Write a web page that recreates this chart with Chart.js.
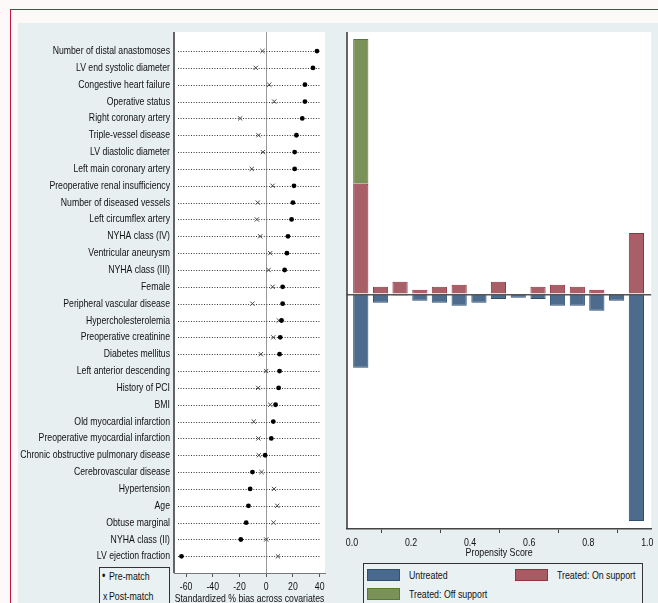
<!DOCTYPE html>
<html>
<head>
<meta charset="utf-8">
<script src="https://cdn.jsdelivr.net/npm/chart.js@4.4.1/dist/chart.umd.min.js"></script>
<style>
  html, body { margin:0; padding:0; width:658px; height:603px; overflow:hidden; background:#fdf9f8; }
  #frame { position:absolute; left:10px; top:9px; width:660px; height:600px; border-left:1.5px solid #c4163e; border-top:1.5px solid #c4163e; }
  #panel { position:absolute; left:18px; top:23px; right:0; bottom:0; background:#e8eff1; }
  canvas { position:absolute; top:0; }
  #c1 { left:0; }
  #c2 { left:340px; }
  .lg { position:absolute; border:1px solid #333; background:#eaf1f3; font-family:"Liberation Sans",Arial,sans-serif; font-size:11px; color:#111; }
  .lg span { position:absolute; white-space:nowrap; line-height:12px; transform:scaleX(0.8); transform-origin:0 0; }
  .sw { position:absolute; width:31px; height:10px; }
</style>
</head>
<body>
<div id="frame"></div>
<div id="panel"></div>
<canvas id="c1" width="340" height="603"></canvas>
<canvas id="c2" width="318" height="603"></canvas>

<div class="lg" style="left:99px; top:567px; width:69px; height:40px;">
  <span style="left:2px; top:2px; font-size:12px;">&#8226;</span>
  <span style="left:9px; top:2px;">Pre-match</span>
  <span style="left:3px; top:22px;">x</span>
  <span style="left:9px; top:22px;">Post-match</span>
</div>
<div class="lg" style="left:363px; top:563px; width:278px; height:44px;">
  <div class="sw" style="left:3px; top:5px; background:#4a6a8d; border:1px solid #2f4f73;"></div>
  <span style="left:45px; top:5px;">Untreated</span>
  <div class="sw" style="left:151px; top:5px; background:#a75c64; border:1px solid #96323f;"></div>
  <span style="left:193px; top:5px;">Treated: On support</span>
  <div class="sw" style="left:3px; top:24px; background:#7a9258; border:1px solid #577a33;"></div>
  <span style="left:45px; top:24px;">Treated: Off support</span>
</div>

<script>
// ---------------- DATA ----------------
const covariates = [
  "Number of distal anastomoses","LV end systolic diameter","Congestive heart failure","Operative status",
  "Right coronary artery","Triple-vessel disease","LV diastolic diameter","Left main coronary artery",
  "Preoperative renal insufficiency","Number of diseased vessels","Left circumflex artery","NYHA class (IV)",
  "Ventricular aneurysm","NYHA class (III)","Female","Peripheral vascular disease","Hypercholesterolemia",
  "Preoperative creatinine","Diabetes mellitus","Left anterior descending","History of PCI","BMI",
  "Old myocardial infarction","Preoperative myocardial infarction","Chronic obstructive pulmonary disease",
  "Cerebrovascular disease","Hypertension","Age","Obtuse marginal","NYHA class (II)","LV ejection fraction"
];
const preMatch = [38, 35, 29, 29, 27, 22.6, 21.3, 21.3, 20.8, 20, 19, 16.3, 15.5, 13.8, 12.3, 12.3, 11.5,
  10.5, 10, 10, 9.3, 7, 5.3, 3.8, -0.8, -10.3, -12, -13.3, -15, -19, -63.4];
const postMatch = [-2.8, -7.8, 2.3, 6, -19.5, -5.8, -2.5, -10.8, 4.8, -6.3, -7, -4.5, 3, 1.8, 4.8, -10.3, 9.5,
  5.3, -4, 0, -6, 3, -9.3, -5.8, -5.5, -3.5, 5.8, 8.3, 5.5, 0, 8.8];
const biasTicks = [-60, -40, -20, 0, 20, 40];

const binCenters = [0.030, 0.097, 0.163, 0.230, 0.296, 0.363, 0.430, 0.496, 0.563, 0.630, 0.696, 0.763, 0.829, 0.896, 0.963];
const untreated = [-2.94, -0.34, -0.05, -0.26, -0.34, -0.46, -0.34, -0.19, -0.14, -0.19, -0.46, -0.46, -0.66, -0.26, -9.07];
const treatedOn = [4.42, 0.30, 0.50, 0.18, 0.30, 0.38, 0, 0.50, 0, 0.30, 0.38, 0.30, 0.18, 0, 2.45];
const treatedOff = [5.79, 0, 0, 0, 0, 0, 0, 0, 0, 0, 0, 0, 0, 0, 0];
const scoreTicks = [0, 0.2, 0.4, 0.6, 0.8, 1.0];

// ---------------- COMMON ----------------
Chart.defaults.font.family = '"Liberation Sans",Arial,sans-serif';
Chart.defaults.font.size = 11;
Chart.defaults.color = '#111';
Chart.defaults.animation = false;

// narrow (condensed) text rendering, like the original Stata graph font
function condense(canvas, k) {
  const ctx = canvas.getContext('2d');
  const orig = ctx.fillText;
  ctx.fillText = function (t, x, y, mw) {
    this.save();
    this.translate(x, y);
    this.scale(k, 1);
    if (mw === undefined) orig.call(this, t, 0, 0); else orig.call(this, t, 0, 0, mw / k);
    this.restore();
  };
}

const whiteArea = {
  id: 'whiteArea',
  beforeDraw(chart) {
    const {ctx, chartArea: a} = chart;
    ctx.save(); ctx.fillStyle = '#ffffff';
    ctx.fillRect(a.left, a.top, a.right - a.left, a.bottom - a.top);
    ctx.restore();
  }
};

const rowLines = {
  id: 'rowLines',
  beforeDatasetsDraw(chart) {
    const {ctx, chartArea: a, scales: {y}} = chart;
    ctx.save();
    ctx.strokeStyle = '#333'; ctx.lineWidth = 1; ctx.setLineDash([1, 1.6]);
    covariates.forEach((_, i) => {
      const py = Math.round(y.getPixelForValue(i)) + 0.5;
      ctx.beginPath(); ctx.moveTo(a.left + 4, py); ctx.lineTo(a.right - 4, py); ctx.stroke();
    });
    ctx.restore();
  }
};

const leftAxisLine = {
  id: 'leftAxisLine',
  afterDraw(chart) {
    const {ctx, chartArea: a} = chart;
    ctx.save(); ctx.strokeStyle = '#333'; ctx.lineWidth = 1.5;
    ctx.beginPath(); ctx.moveTo(a.left, a.top); ctx.lineTo(a.left, a.bottom); ctx.stroke();
    ctx.restore();
  }
};

// ---------------- LEFT: standardized bias ----------------
const c1 = document.getElementById('c1');
condense(c1, 0.79);
new Chart(c1, {
  type: 'scatter',
  data: {
    datasets: [
      { label: 'Pre-match', data: preMatch.map((v, i) => ({x: v, y: i})),
        pointStyle: 'circle', pointRadius: 2.4, backgroundColor: '#000', borderColor: '#000', borderWidth: 0 },
      { label: 'Post-match', data: postMatch.map((v, i) => ({x: v, y: i})),
        pointStyle: 'crossRot', pointRadius: 3, borderColor: '#444', backgroundColor: '#444', borderWidth: 1 }
    ]
  },
  options: {
    responsive: false, devicePixelRatio: 1,
    layout: { padding: { top: 32, right: 15, left: 0, bottom: 0 } },
    plugins: { legend: { display: false }, tooltip: { enabled: false } },
    scales: {
      x: {
        type: 'linear', min: -69, max: 44,
        afterBuildTicks: s => { s.ticks = biasTicks.map(v => ({value: v})); },
        afterFit: s => { s.height = 30; },
        ticks: { padding: 3, color: '#111', font: { size: 11 }, maxRotation: 0 },
        grid: { color: c => (c.tick && c.tick.value === 0) ? '#999' : 'rgba(0,0,0,0)',
                tickColor: '#555', tickLength: 4, lineWidth: 1 },
        border: { display: true, color: '#777', width: 1 },
        title: { display: true, text: 'Standardized % bias across covariates', padding: { top: 0, bottom: -3 },
                 font: { size: 11 }, color: '#111' }
      },
      y: {
        type: 'linear', reverse: true, min: -1.13, max: 30.99,
        afterBuildTicks: s => { s.ticks = covariates.map((_, i) => ({value: i})); },
        afterFit: s => { s.width = 174; },
        ticks: { callback: v => covariates[v], padding: 4, color: '#111', font: { size: 11 }, autoSkip: false },
        grid: { display: false, drawTicks: false },
        border: { display: false }
      }
    }
  },
  plugins: [whiteArea, rowLines, leftAxisLine]
});

// ---------------- RIGHT: propensity score histogram ----------------
const c2 = document.getElementById('c2');
condense(c2, 0.8);
const toPts = arr => arr.map((v, i) => ({x: binCenters[i], y: v}));
new Chart(c2, {
  type: 'bar',
  data: {
    datasets: [
      { label: 'Untreated', data: toPts(untreated), backgroundColor: 'rgba(62,96,132,0.93)', borderColor: '#2f4f73', borderWidth: 1 },
      { label: 'Treated: On support', data: toPts(treatedOn), backgroundColor: 'rgba(160,78,88,0.9)', borderColor: '#96323f', borderWidth: 1 },
      { label: 'Treated: Off support', data: toPts(treatedOff), backgroundColor: 'rgba(112,138,76,0.93)', borderColor: '#577a33', borderWidth: 1 }
    ]
  },
  options: {
    responsive: false, devicePixelRatio: 1,
    layout: { padding: { top: 32, right: 1, left: 0, bottom: 44 } },
    plugins: { legend: { display: false }, tooltip: { enabled: false } },
    datasets: { bar: { barPercentage: 0.78, categoryPercentage: 1.0 } },
    scales: {
      x: {
        type: 'linear', min: -0.0166, max: 1.013, stacked: true, offset: false,
        afterBuildTicks: s => { s.ticks = scoreTicks.map(v => ({value: v})); },
        afterFit: s => { s.height = 30; },
        ticks: { callback: v => Number(v).toFixed(1), padding: 3, color: '#111', font: { size: 11 }, maxRotation: 0 },
        grid: { drawOnChartArea: false, drawTicks: true, tickLength: 4, tickColor: '#444' },
        border: { display: true, color: '#444', width: 1.5 },
        title: { display: true, text: 'Propensity Score', padding: { top: 0, bottom: -1 }, font: { size: 11 }, color: '#111' }
      },
      y: {
        type: 'linear', min: -9.39, max: 10.49, stacked: true,
        afterBuildTicks: s => { s.ticks = [{value: 0}]; },
        afterFit: s => { s.width = 7; },
        ticks: { display: false },
        grid: { color: '#555', lineWidth: 1.5, drawTicks: false, z: 1 },
        border: { display: false }
      }
    }
  },
  plugins: [whiteArea, leftAxisLine]
});
</script>
</body>
</html>
